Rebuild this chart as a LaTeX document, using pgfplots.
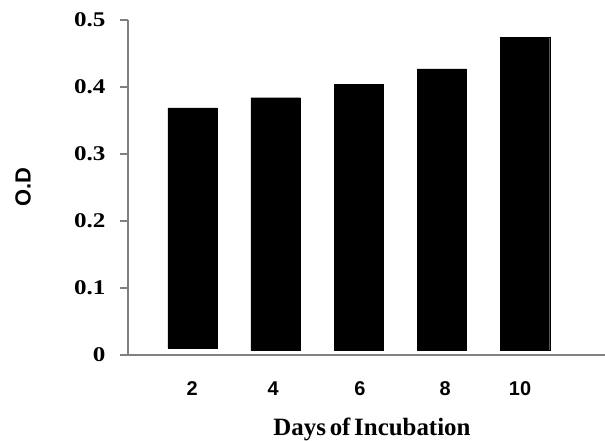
\documentclass[border=0pt]{standalone}
\usepackage{fontspec}
\usepackage{pgfplots}
\pgfplotsset{compat=1.18}
\newfontfamily\tms{Liberation Serif}[FakeStretch=1.2]
\newfontfamily\tmsx{Liberation Serif}[WordSpace=0.6]
\newfontfamily\arl{Liberation Sans}
\definecolor{axgray}{RGB}{128,128,128}
\begin{document}
\begin{tikzpicture}
\useasboundingbox (0,0) rectangle (605bp,441bp);
\begin{axis}[
  at={(128bp,86bp)}, anchor=south west,
  scale only axis, width=477bp, height=335bp,
  ybar stacked, bar width=49.5bp,
  xmin=0.448, xmax=11.925, ymin=0, ymax=0.5,
  axis x line=bottom, axis y line=left,
  axis line style={axgray, line width=1.3bp, -},
  xtick={1.99,3.94,6.03,8.08,9.88}, xticklabels={2,4,6,8,10},
  ytick={0,0.1,0.2,0.3,0.4,0.5},
  yticklabels={0,0.1,0.2,0.3,0.4,0.5},
  x tick style={draw=none},
  y tick style={axgray, line width=1.3bp},
  tick align=outside, major tick length=8bp,
  /pgf/number format/assume math mode=true,
  yticklabel style={font=\tms\bfseries\fontsize{21}{24}\selectfont, xshift=-11bp},
  xticklabel style={font=\arl\bfseries\fontsize{20}{23}\selectfont, yshift=-15bp},
  xlabel={Days of Incubation},
  ylabel={O.D},
  xlabel style={font=\tmsx\bfseries\fontsize{25}{28}\selectfont, at={(axis description cs:0.5115,-0.221)}, anchor=center},
  ylabel style={font=\arl\bfseries\fontsize{22}{25}\selectfont, at={(axis description cs:-0.220,0.5)}, anchor=center},
  clip=false,
]
\addplot[draw=none, fill=none] coordinates {(2,0.010) (4,0.007) (6,0.007) (8,0.007) (10,0.007)};
\addplot[fill=black, draw=black] coordinates {(2,0.359) (4,0.377) (6,0.397) (8,0.420) (10,0.467)};
\end{axis}
\end{tikzpicture}
\end{document}
